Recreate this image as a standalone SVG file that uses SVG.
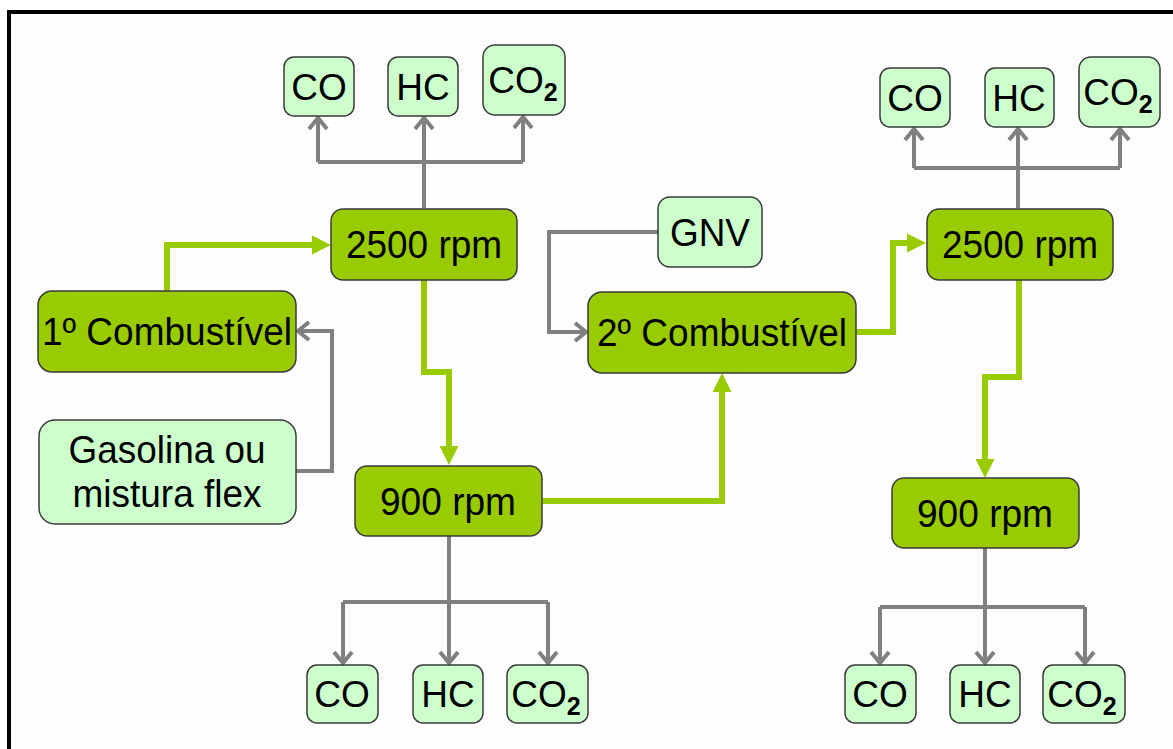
<svg xmlns="http://www.w3.org/2000/svg" width="1173" height="749" viewBox="0 0 1173 749">
<style>
.dk{fill:#99CC00;stroke:#3a3a3a;stroke-width:1.5}
.lt{fill:#CCFFCC;stroke:#3a3a3a;stroke-width:1.5}
text{font-family:"Liberation Sans",Arial,sans-serif;font-size:37px;fill:#000;text-anchor:middle}
.big{font-size:39px}
.sub{font-weight:bold;font-size:25px}
.g{fill:none;stroke:#808080;stroke-width:4}
.gr{fill:none;stroke:#99CC00;stroke-width:6}
</style>
<defs>
<marker id="ga" markerUnits="userSpaceOnUse" markerWidth="30" markerHeight="30" viewBox="-15 -15 30 30" refX="0" refY="0" orient="auto">
<path d="M-11,-9 L0,0 L-11,9" fill="none" stroke="#808080" stroke-width="4"/>
</marker>
<marker id="gn" markerUnits="userSpaceOnUse" markerWidth="30" markerHeight="30" viewBox="-5 -15 30 30" refX="0" refY="0" orient="auto">
<path d="M-1,-9.5 L18,0 L-1,9.5 z" fill="#99CC00"/>
</marker>
</defs>
<rect width="1173" height="749" fill="#fff"/>
<rect x="9" y="12" width="1164" height="737" fill="#fdfdfd"/>
<path d="M9,749 V12 H1173" fill="none" stroke="#000" stroke-width="4"/>

<g id="connectors">
<path class="g" d="M424,208 V162"/>
<path class="g" d="M318,162 H523"/>
<path class="g" d="M318,162 V118" marker-end="url(#ga)"/>
<path class="g" d="M424,162 V118" marker-end="url(#ga)"/>
<path class="g" d="M523,162 V117" marker-end="url(#ga)"/>
<path class="g" d="M296,471 H332 V331 H298" marker-end="url(#ga)"/>
<path class="g" d="M658,232 H549 V332 H586" marker-end="url(#ga)"/>
<path class="g" d="M449,536 V602"/>
<path class="g" d="M343,602 H548"/>
<path class="g" d="M343,602 V663" marker-end="url(#ga)"/>
<path class="g" d="M449,602 V663" marker-end="url(#ga)"/>
<path class="g" d="M548,602 V663" marker-end="url(#ga)"/>
<path class="g" d="M1018,208 V168"/>
<path class="g" d="M914,168 H1120"/>
<path class="g" d="M914,168 V129" marker-end="url(#ga)"/>
<path class="g" d="M1018,168 V129" marker-end="url(#ga)"/>
<path class="g" d="M1120,168 V129" marker-end="url(#ga)"/>
<path class="g" d="M985,548 V607"/>
<path class="g" d="M880,607 H1085"/>
<path class="g" d="M880,607 V663" marker-end="url(#ga)"/>
<path class="g" d="M985,607 V663" marker-end="url(#ga)"/>
<path class="g" d="M1085,607 V663" marker-end="url(#ga)"/>
<path class="gr" d="M167,291 V245 H313" marker-end="url(#gn)"/>
<path class="gr" d="M424,280 V372 H449 V447" marker-end="url(#gn)"/>
<path class="gr" d="M543,501 H722 V391" marker-end="url(#gn)"/>
<path class="gr" d="M856,332 H893 V243 H908" marker-end="url(#gn)"/>
<path class="gr" d="M1019,280 V377 H985 V460" marker-end="url(#gn)"/>
</g>

<g id="co-top-left"><rect class="lt" x="284" y="57" width="70" height="59" rx="10"/><text x="319" y="100">CO</text></g>
<g id="hc-top-left"><rect class="lt" x="388" y="57" width="70" height="59" rx="10"/><text x="423" y="100">HC</text></g>
<g id="co2-top-left"><rect class="lt" x="483" y="45" width="82" height="70" rx="12"/><text x="523" y="93">CO<tspan class="sub" dy="8">2</tspan></text></g>

<g id="rpm2500-left"><rect class="dk" x="331" y="209" width="186" height="71" rx="12"/><text class="big" x="424" y="258" textLength="156" lengthAdjust="spacingAndGlyphs">2500 rpm</text></g>
<g id="comb1"><rect class="dk" x="38" y="291" width="258" height="81" rx="14"/><text class="big" x="167" y="345" textLength="250" lengthAdjust="spacingAndGlyphs">1º Combustível</text></g>
<g id="gasolina"><rect class="lt" x="39" y="420" width="257" height="104" rx="16"/><text class="big" x="167" y="463" textLength="197" lengthAdjust="spacingAndGlyphs">Gasolina ou</text><text class="big" x="167" y="507" textLength="189" lengthAdjust="spacingAndGlyphs">mistura flex</text></g>
<g id="rpm900-left"><rect class="dk" x="355" y="466" width="187" height="70" rx="12"/><text class="big" x="448" y="515" textLength="136" lengthAdjust="spacingAndGlyphs">900 rpm</text></g>

<g id="co-bot-left"><rect class="lt" x="307" y="665" width="71" height="58" rx="10"/><text x="342" y="707">CO</text></g>
<g id="hc-bot-left"><rect class="lt" x="413" y="665" width="70" height="58" rx="10"/><text x="448" y="707">HC</text></g>
<g id="co2-bot-left"><rect class="lt" x="507" y="665" width="81" height="58" rx="10"/><text x="546" y="707">CO<tspan class="sub" dy="8">2</tspan></text></g>

<g id="gnv"><rect class="lt" x="658" y="197" width="104" height="70" rx="12"/><text class="big" x="710" y="246" textLength="80" lengthAdjust="spacingAndGlyphs">GNV</text></g>
<g id="comb2"><rect class="dk" x="588" y="292" width="268" height="81" rx="14"/><text class="big" x="722" y="346" textLength="250" lengthAdjust="spacingAndGlyphs">2º Combustível</text></g>

<g id="co-top-right"><rect class="lt" x="880" y="68" width="70" height="59" rx="10"/><text x="915" y="111">CO</text></g>
<g id="hc-top-right"><rect class="lt" x="985" y="68" width="69" height="59" rx="10"/><text x="1019" y="111">HC</text></g>
<g id="co2-top-right"><rect class="lt" x="1079" y="57" width="81" height="70" rx="12"/><text x="1118" y="105">CO<tspan class="sub" dy="8">2</tspan></text></g>

<g id="rpm2500-right"><rect class="dk" x="927" y="209" width="186" height="71" rx="12"/><text class="big" x="1020" y="258" textLength="156" lengthAdjust="spacingAndGlyphs">2500 rpm</text></g>
<g id="rpm900-right"><rect class="dk" x="892" y="478" width="187" height="70" rx="12"/><text class="big" x="985" y="527" textLength="136" lengthAdjust="spacingAndGlyphs">900 rpm</text></g>

<g id="co-bot-right"><rect class="lt" x="845" y="665" width="71" height="58" rx="10"/><text x="880" y="707">CO</text></g>
<g id="hc-bot-right"><rect class="lt" x="950" y="665" width="70" height="58" rx="10"/><text x="985" y="707">HC</text></g>
<g id="co2-bot-right"><rect class="lt" x="1043" y="665" width="82" height="58" rx="10"/><text x="1082" y="707">CO<tspan class="sub" dy="8">2</tspan></text></g>
</svg>
